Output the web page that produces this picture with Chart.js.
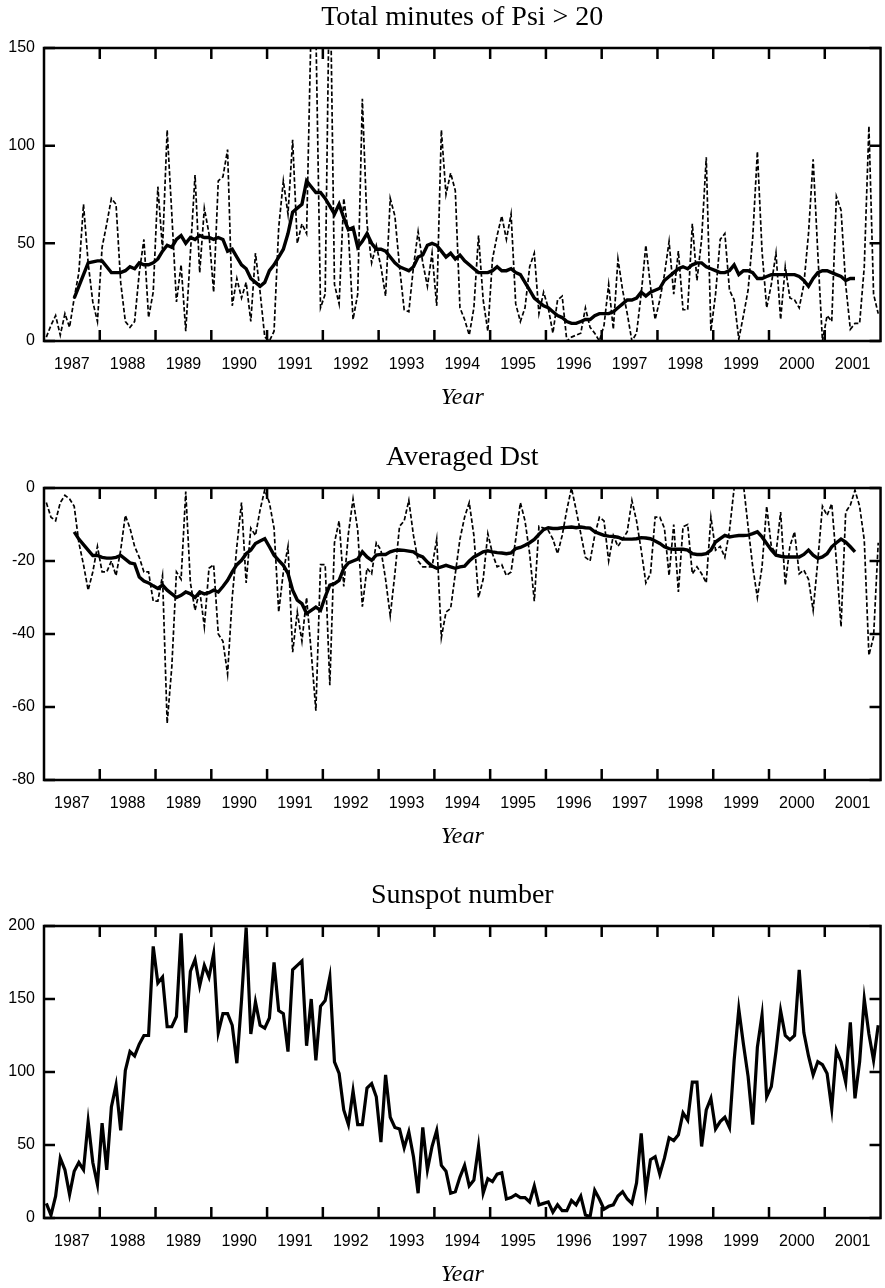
<!DOCTYPE html>
<html><head><meta charset="utf-8">
<script src="https://cdn.jsdelivr.net/npm/chart.js@4.4.0/dist/chart.umd.min.js"></script>
<style>
html,body{margin:0;padding:0;background:#fff;}
#wrap{position:relative;width:885px;height:1288px;overflow:hidden;background:#fff;}
canvas{position:absolute;left:0;}
</style></head><body>
<div id="wrap">
<canvas id="c1" width="885" height="410" style="top:0px"></canvas>
<canvas id="c2" width="885" height="409" style="top:440px"></canvas>
<canvas id="c3" width="885" height="409" style="top:878px"></canvas>
</div>
<script>
// ---------- data ----------
const yearLabels = ['1987','1988','1989','1990','1991','1992','1993','1994','1995','1996','1997','1998','1999','2000','2001'];
const yearBoundaries = [1988,1989,1990,1991,1992,1993,1994,1995,1996,1997,1998,1999,2000,2001];
const START_YEAR = 1987;
const SMOOTH_OFFSET = 6; // smoothed series start at month index 6 (Jul 1987)

const psiTitle = 'Total minutes of Psi > 20';
const dstTitle = 'Averaged Dst';
const sunTitle = 'Sunspot number';
const xTitle = 'Year';

// monthly total minutes of Psi > 20 (Jan 1987 .. Dec 2001)
const psiMonthly = [
  2, 8, 13, 3, 14, 7, 22, 35, 70, 40, 20, 10,
  48, 60, 73, 70, 30, 10, 7, 10, 35, 52, 12, 25,
  79, 47, 108, 65, 20, 39, 5, 45, 85, 35, 68, 55,
  25, 82, 84, 98, 18, 32, 22, 30, 10, 45, 25, 2,
  0, 5, 58, 82, 65, 103, 50, 60, 55, 165, 160, 17,
  24, 200, 29, 19, 73, 55, 11, 24, 124, 60, 40, 49,
  38, 23, 73, 64, 38, 16, 15, 38, 56, 40, 28, 45,
  18, 108, 75, 86, 77, 17, 11, 3, 17, 54, 21, 5,
  42, 54, 64, 52, 65, 19, 10, 17, 38, 45, 14, 25,
  17, 4, 21, 23, 0, 2, 3, 4, 17, 7, 4, 0,
  8, 29, 6, 42, 26, 14, 0, 4, 24, 49, 28, 11,
  21, 34, 51, 24, 46, 16, 16, 60, 31, 52, 94, 5,
  24, 52, 55, 26, 21, 1, 13, 26, 53, 97, 46, 17,
  29, 45, 11, 38, 22, 21, 17, 29, 55, 93, 45, 0,
  13, 10, 74, 67, 29, 6, 9, 9, 38, 110, 24, 14
];
// running mean (Jul 1987 .. Jul 2001)
const psiSmooth = [
  22, 28, 34, 40, 40.5, 41,
  41, 38, 35, 35, 35, 36, 38, 37, 40, 39, 39, 40,
  42, 46, 49, 48, 52, 54, 50, 53, 52, 54, 53, 53,
  52, 53, 52, 46, 47, 43, 39, 37, 32, 30, 28, 30,
  36, 39, 43, 47, 55, 66, 68, 70, 82, 79, 76, 76,
  73, 69, 65, 70, 63, 57, 58, 48, 51, 55, 50, 47,
  47, 46, 43, 40, 38, 37, 36, 38, 43, 44, 49, 50,
  49, 46, 43, 45, 42, 44, 41, 39, 37, 35, 35, 35,
  36, 38, 36, 36, 37, 35, 34, 30, 26, 22, 20, 18,
  17, 15, 13, 12, 10, 9, 9, 10, 11, 11, 13, 14,
  14, 14, 15, 17, 19, 21, 21, 22, 25, 23, 25, 26,
  27, 31, 33, 35, 37, 38, 37, 39, 40, 40, 38, 37,
  36, 35, 35, 36, 39, 34, 36, 36, 35, 32, 32, 33,
  34, 34, 34, 34, 34, 34, 33, 31, 28, 32, 35, 36,
  36, 35, 34, 33, 31, 32, 32
];
// monthly averaged Dst
const dstMonthly = [
  -4, -8, -9, -4, -2, -3, -5, -15, -21, -28, -23, -16,
  -23, -23, -20, -24, -17, -7.5, -11, -16, -19, -23, -23, -31,
  -31, -24, -64.5, -49, -23, -25, -1, -26, -33.5, -28, -38, -22,
  -21, -40, -42, -51, -30, -16, -4, -26, -11, -13, -6, -0.5,
  -4, -11, -34, -23, -16, -45, -34, -42, -30, -45, -61, -21,
  -21, -54, -15, -9, -27, -12.5, -3, -11.5, -32.5, -22, -23.5, -15,
  -17, -25, -35, -23.5, -10.5, -9, -3.4, -13, -20, -21.6, -21.6, -21.6,
  -14, -41, -34, -33, -23.5, -14, -8, -4, -13, -30, -25, -12.5,
  -18, -21.6, -21, -24, -23, -14, -4, -9, -18, -31, -10.5, -11,
  -11.6, -14, -18, -13, -6, 0, -6, -12.5, -19, -20, -13, -8,
  -9, -20, -13, -16, -14, -12, -3.4, -9, -17, -26, -23.5, -8,
  -8, -11, -24, -10, -28.5, -10.6, -10, -23.5, -21.6, -23.5, -26, -8,
  -17, -16, -19, -11.6, 0, 2, 1, -10.6, -21.6, -30, -21.6, -5,
  -16, -18, -6.6, -26.6, -16, -12, -23.5, -22.5, -25, -33.5, -20, -5,
  -7.5, -4.3, -20, -38, -6.6, -4.7, -0.6, -5, -14.3, -45.8, -40.8, -15
];
const dstSmooth = [
  -12, -14, -15.5, -17, -18.5, -18.5,
  -19, -19.2, -19.2, -19, -18.5, -19.5, -20.5, -20.8, -24.4, -25.5, -26, -26.8,
  -27.5, -26.6, -28, -29, -30, -29.4, -28.5, -29, -30, -28.5, -29, -28.7,
  -28, -28.5, -27, -25.3, -23, -21, -19.8, -18, -17, -15.2, -14.5, -13.9,
  -16.1, -18.4, -19.8, -21.2, -23.4, -28, -30.7, -31.7, -34.4, -33.5, -32.6, -33.5,
  -29.8, -26.6, -26.2, -25.3, -22, -20.5, -20, -19.5, -17.5, -18.9, -19.8, -18.4,
  -18.2, -18.2, -17.5, -17.1, -17, -17.1, -17.3, -17.5, -18.4, -18.9, -20.3, -21.4,
  -22, -21.6, -21.2, -21.6, -22, -21.6, -21.4, -20, -18.9, -18.2, -17.5, -17.2,
  -17.5, -17.7, -17.8, -18, -17.8, -16.6, -16.3, -15.7, -15, -14.1, -12.7, -11.4,
  -10.9, -11.1, -11.1, -10.9, -10.8, -10.7, -10.9, -10.7, -10.9, -11, -12, -12.5,
  -13, -13.2, -13.3, -13.5, -14, -14, -14, -13.9, -13.6, -13.7, -13.9, -14.5,
  -15.2, -16.1, -16.6, -16.8, -16.8, -16.8, -17, -18, -18.2, -18.2, -18, -17,
  -14.8, -13.9, -13, -13.4, -13.2, -13, -13, -12.9, -12.5, -12, -13.4, -15.2,
  -17, -18.4, -18.7, -18.9, -18.9, -18.9, -18.9, -18.2, -17, -18.4, -19.3, -18.9,
  -18, -16.1, -15, -14, -14.8, -16.1, -17.5
];
// monthly sunspot number
const sunspot = [
  10, 2, 15, 41, 33, 16, 32, 38, 33, 66, 38, 23,
  65, 33, 76, 91, 60, 101, 114, 111, 119, 125, 125, 186,
  161, 165, 131, 131, 138, 195, 127, 169, 177, 159, 173, 165,
  181, 127, 140, 140, 132, 106, 149, 199, 126, 148, 132, 130,
  137, 175, 142, 140, 114, 170, 173, 176, 118, 150, 108, 145,
  149, 165, 107, 99, 74, 64, 87, 64, 64, 89, 92, 83,
  52, 98, 69, 62, 61, 48, 59, 42, 17, 62, 33, 49,
  60, 36, 32, 17, 18, 28, 36, 22, 26, 49, 17, 27,
  25, 30, 31, 13, 14, 16, 14, 14, 11, 22, 9, 10,
  11, 4, 9, 5, 5, 12, 9, 15, 2, 1, 19, 13,
  6, 8, 9, 15, 18, 13, 10, 24, 58, 18, 40, 42,
  30, 41, 55, 53, 57, 72, 67, 93, 93, 49, 74, 82,
  61, 66, 69, 62, 108, 143, 119, 97, 64, 117, 139, 83,
  90, 114, 142, 125, 122, 125, 170, 127, 111, 98, 107, 105,
  99, 75, 115, 107, 93, 134, 82, 107, 150, 126, 108, 132
];

// ---------- helpers ----------
function monthX(i){ return START_YEAR + (i + 0.5) / 12; }
function toPoints(values, offset){ return values.map((v, i) => ({x: monthX(i + offset), y: v})); }

const SANS = '"Liberation Sans", Arial, Helvetica, sans-serif';
const SERIF = '"Liberation Serif", "Times New Roman", Times, serif';

const frameTicks = {
  id: 'frameTicks',
  afterDraw(chart) {
    const {ctx, chartArea: a, scales} = chart;
    const L = 11;
    ctx.save();
    ctx.strokeStyle = '#000';
    ctx.lineWidth = 2.5;
    ctx.lineCap = 'butt';
    ctx.strokeRect(a.left, a.top, a.right - a.left, a.bottom - a.top);
    ctx.beginPath();
    yearBoundaries.forEach(yr => {
      const x = scales.x.getPixelForValue(yr);
      ctx.moveTo(x, a.top); ctx.lineTo(x, a.top + L);
      ctx.moveTo(x, a.bottom); ctx.lineTo(x, a.bottom - L);
    });
    scales.y.ticks.forEach(t => {
      const y = scales.y.getPixelForValue(t.value);
      ctx.moveTo(a.left, y); ctx.lineTo(a.left + L, y);
      ctx.moveTo(a.right, y); ctx.lineTo(a.right - L, y);
    });
    ctx.stroke();
    ctx.restore();
  }
};

function makeChart(id, title, datasets, yMin, yMax, yStep) {
  return new Chart(document.getElementById(id), {
    type: 'line',
    data: {datasets},
    options: {
      responsive: false,
      animation: false,
      devicePixelRatio: 1,
      layout: {padding: {top: 0, left: 0, right: 1, bottom: 0}},
      elements: {point: {radius: 0}, line: {tension: 0}},
      plugins: {
        legend: {display: false},
        tooltip: {enabled: false},
        title: {
          display: true, text: title, color: '#000', fullSize: false,
          font: {family: SERIF, size: 28, weight: 'normal'},
          padding: {top: 1, bottom: 13.4}
        }
      },
      scales: {
        x: {
          type: 'linear', min: START_YEAR, max: 2002,
          grid: {display: false, drawTicks: false},
          border: {display: false},
          afterBuildTicks: (s) => { s.ticks = yearLabels.map(l => ({value: Number(l) + 0.5})); },
          afterFit: (s) => { s.height = 69; },
          ticks: {
            color: '#000', font: {family: SANS, size: 16}, padding: 14.4,
            maxRotation: 0, autoSkip: false,
            callback: (v, i) => yearLabels[i]
          },
          title: {
            display: true, text: xTitle, color: '#000',
            font: {family: SERIF, size: 24, style: 'italic', lineHeight: 1},
            padding: {top: 0, bottom: 0}
          }
        },
        y: {
          min: yMin, max: yMax,
          grid: {display: false, drawTicks: false},
          border: {display: false},
          afterFit: (s) => { s.width = 44; },
          ticks: {
            stepSize: yStep, color: '#000', font: {family: SANS, size: 16}, padding: 9,
            callback: (v) => String(v)
          }
        }
      }
    },
    plugins: [frameTicks]
  });
}

const dashedStyle = {borderColor: '#000', borderWidth: 1.7, borderDash: [4.5, 2.3], pointRadius: 0, fill: false};
const thickStyle = {borderColor: '#000', borderWidth: 3.4, pointRadius: 0, fill: false};

makeChart('c1', psiTitle, [
  Object.assign({label: 'Psi monthly', data: toPoints(psiMonthly, 0)}, dashedStyle),
  Object.assign({label: 'Psi running mean', data: toPoints(psiSmooth, SMOOTH_OFFSET)}, thickStyle)
], 0, 150, 50);

makeChart('c2', dstTitle, [
  Object.assign({label: 'Dst monthly', data: toPoints(dstMonthly, 0)}, dashedStyle),
  Object.assign({label: 'Dst running mean', data: toPoints(dstSmooth, SMOOTH_OFFSET)}, thickStyle)
], -80, 0, 20);

makeChart('c3', sunTitle, [
  Object.assign({label: 'Sunspot number', data: toPoints(sunspot, 0)},
    {borderColor: '#000', borderWidth: 3.2, pointRadius: 0, fill: false})
], 0, 200, 50);
</script>
</body></html>
